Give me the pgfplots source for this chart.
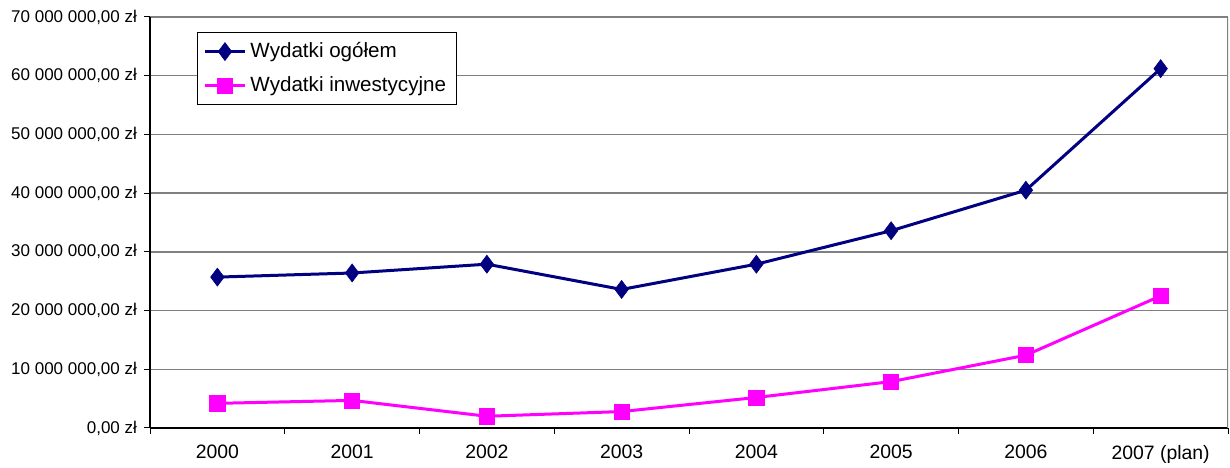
\documentclass[border=0pt]{standalone}
\usepackage{pgfplots}
\pgfplotsset{compat=1.18}
\usepackage{fontspec}
\setmainfont{Liberation Sans}
\definecolor{navyline}{RGB}{0,0,128}
\definecolor{magline}{RGB}{255,0,255}
\definecolor{gridgray}{RGB}{128,128,128}
\begin{document}
\begin{tikzpicture}
\begin{axis}[
    scale only axis,
    width=539pt, height=205.5pt,
    xmin=-0.5, xmax=7.5,
    ymin=0, ymax=70000000,
    axis x line*=bottom, axis y line*=left,
    axis line style={black, line width=0.6pt},
    xtick={0,...,7},
    xticklabels={2000,2001,2002,2003,2004,2005,2006,2007 (plan)},
    minor xtick={-0.5,0.5,...,7.5},
    ytick={0,10000000,...,70000000},
    minor ytick={0,10000000,...,70000000},
    yticklabels={{0,00 zł},{10 000 000,00 zł},{20 000 000,00 zł},{30 000 000,00 zł},{40 000 000,00 zł},{50 000 000,00 zł},{60 000 000,00 zł},{70 000 000,00 zł}},
    major tick length=0pt,
    minor tick length=3pt,
    tick align=outside,
    minor tick style={black, line width=0.5pt},
    ymajorgrids,
    grid style={gridgray, line width=0.75pt},
    yticklabel style={font=\fontsize{8.5}{9.5}\selectfont, xshift=-3pt},
    xticklabel style={font=\fontsize{9.7}{11}\selectfont, yshift=-5pt},
    scaled y ticks=false,
    legend style={at={(0.0436,0.9635)}, anchor=north west, draw=black,
        line width=0.5pt, font=\fontsize{10.3}{12}\selectfont,
        row sep=4pt, inner sep=3pt},
    legend cell align=left,
    legend image code/.code={
        \draw[mark repeat=2, mark phase=2, #1]
        plot coordinates {(0pt,0pt) (10pt,0pt) (20pt,0pt)};
    },
]
\addplot[navyline, line width=1.5pt, mark=diamond*, mark size=4.5pt,
    mark options={solid, line width=0.3pt}] coordinates {
(0,25700000) (1,26400000) (2,27900000) (3,23600000)
(4,27900000) (5,33600000) (6,40500000) (7,61200000)};
\addplot[magline, line width=1.5pt, mark=square*, mark size=3.8pt,
    mark options={solid, line width=0.3pt}] coordinates {
(0,4200000) (1,4700000) (2,2000000) (3,2800000)
(4,5200000) (5,7900000) (6,12400000) (7,22500000)};
\draw[gridgray, line width=0.75pt] (rel axis cs:1,0) -- (rel axis cs:1,1);
\legend{Wydatki ogółem, Wydatki inwestycyjne}
\end{axis}
\pgfresetboundingbox
\path ([xshift=-75pt,yshift=-20pt]current axis.south west)
    rectangle ([xshift=1pt,yshift=8.5pt]current axis.north east);
\end{tikzpicture}
\end{document}
